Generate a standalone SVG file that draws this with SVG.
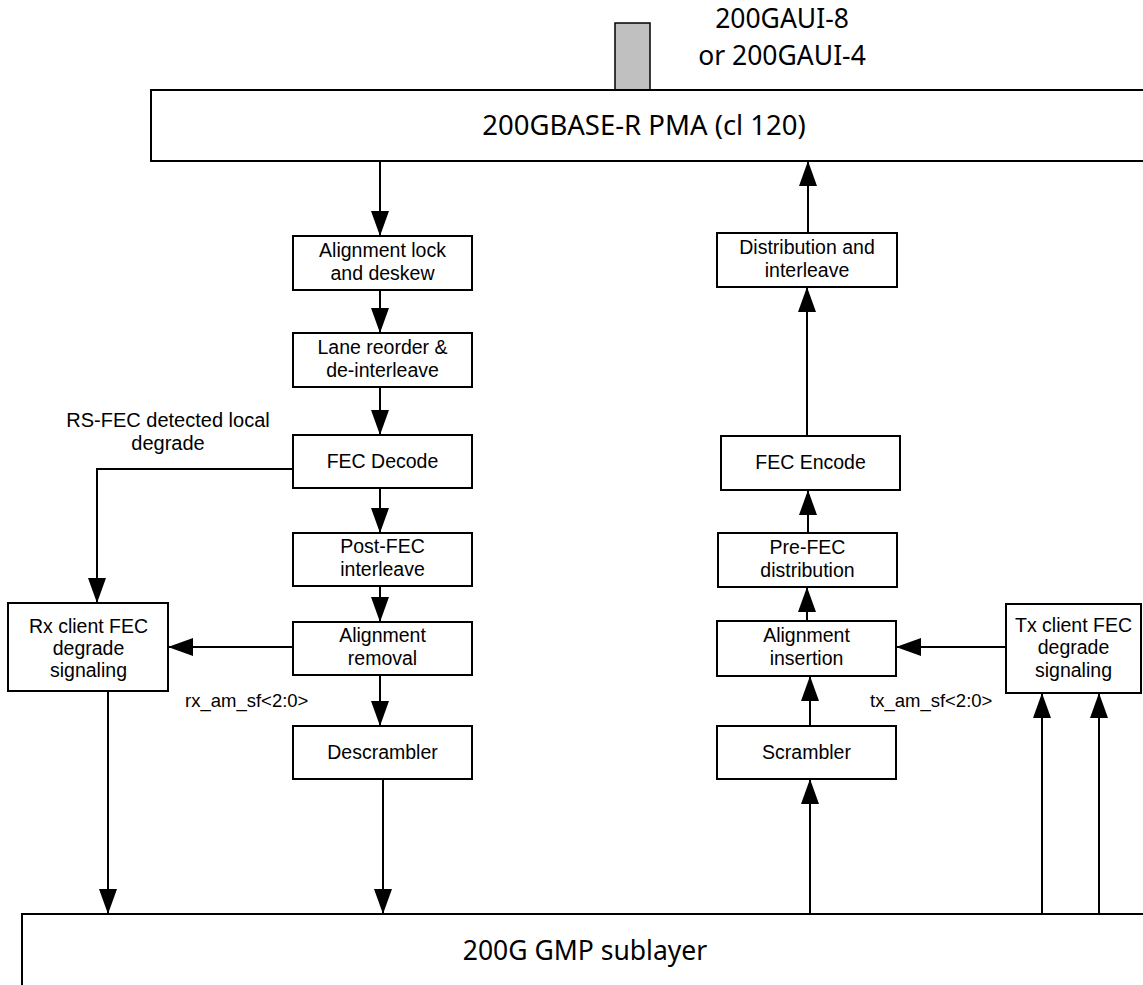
<svg xmlns="http://www.w3.org/2000/svg" width="1143" height="985" viewBox="0 0 1143 985">
<style>
.box{fill:#fff;stroke:#000;stroke-width:2}
.t{font-family:"Liberation Sans",Arial,sans-serif;font-size:19.5px;fill:#000;text-anchor:middle}
.lbl{font-family:"Liberation Sans",Arial,sans-serif;font-size:18.5px;fill:#000}
.big{font-family:"Noto Sans","Open Sans",sans-serif;font-size:26.5px;fill:#000;text-anchor:middle}
.c{fill:none;stroke:#000;stroke-width:2}
</style>
<defs>
<marker id="ah" markerUnits="userSpaceOnUse" markerWidth="25" markerHeight="18" viewBox="0 0 25 18" refX="25" refY="9" orient="auto">
<path d="M0,0 L25,9 L0,18 z" fill="#000"/>
</marker>
</defs>
<rect width="1143" height="985" fill="#fff"/>

<g id="gaui">
<rect x="615" y="23" width="35" height="67" fill="#c0c0c0" stroke="#000" stroke-width="1.5"/>
<text class="big" x="782" y="28">200GAUI-8</text>
<text class="big" x="782" y="65">or 200GAUI-4</text>
</g>
<g id="pma">
<rect class="box" x="151" y="90" width="1010" height="71"/>
<text class="big" x="644" y="135" style="font-size:27.5px">200GBASE-R PMA (cl 120)</text>
</g>
<g id="gmp">
<rect class="box" x="22" y="914" width="1140" height="100"/>
<text class="big" x="585" y="960">200G GMP sublayer</text>
</g>

<g id="align_lock"><rect class="box" x="293" y="236" width="179" height="54"/>
<text class="t" x="382.5" y="257">Alignment lock</text><text class="t" x="382.5" y="280">and deskew</text></g>
<g id="lane_reorder"><rect class="box" x="293" y="333" width="179" height="54"/>
<text class="t" x="382.5" y="354">Lane reorder &amp;</text><text class="t" x="382.5" y="377">de-interleave</text></g>
<g id="fec_decode"><rect class="box" x="293" y="435" width="179" height="53"/>
<text class="t" x="382.5" y="468">FEC Decode</text></g>
<g id="post_fec"><rect class="box" x="293" y="533" width="179" height="53"/>
<text class="t" x="382.5" y="553">Post-FEC</text><text class="t" x="382.5" y="576">interleave</text></g>
<g id="align_removal"><rect class="box" x="293" y="622" width="179" height="53"/>
<text class="t" x="382.5" y="642">Alignment</text><text class="t" x="382.5" y="665">removal</text></g>
<g id="descrambler"><rect class="box" x="293" y="726" width="179" height="53"/>
<text class="t" x="382.5" y="759">Descrambler</text></g>

<g id="distribution"><rect class="box" x="717" y="233" width="180" height="54"/>
<text class="t" x="807" y="254">Distribution and</text><text class="t" x="807" y="277">interleave</text></g>
<g id="fec_encode"><rect class="box" x="721" y="436" width="179" height="54"/>
<text class="t" x="810.5" y="469">FEC Encode</text></g>
<g id="pre_fec"><rect class="box" x="718" y="533" width="179" height="54"/>
<text class="t" x="807.5" y="554">Pre-FEC</text><text class="t" x="807.5" y="577">distribution</text></g>
<g id="align_insertion"><rect class="box" x="717" y="621" width="179" height="55"/>
<text class="t" x="806.5" y="642">Alignment</text><text class="t" x="806.5" y="665">insertion</text></g>
<g id="scrambler"><rect class="box" x="717" y="726" width="179" height="53"/>
<text class="t" x="806.5" y="759">Scrambler</text></g>

<g id="rx_client"><rect class="box" x="8" y="603" width="160" height="88"/>
<text class="t" x="88.5" y="633">Rx client FEC</text><text class="t" x="88.5" y="655">degrade</text><text class="t" x="88.5" y="677">signaling</text></g>
<g id="tx_client"><rect class="box" x="1006" y="604" width="135" height="89"/>
<text class="t" x="1073.5" y="632">Tx client FEC</text><text class="t" x="1073.5" y="654">degrade</text><text class="t" x="1073.5" y="677">signaling</text></g>

<g id="connectors">
<path class="c" d="M380,161 V236" marker-end="url(#ah)"/>
<path class="c" d="M380,290 V333" marker-end="url(#ah)"/>
<path class="c" d="M380,387 V435" marker-end="url(#ah)"/>
<path class="c" d="M380,488 V533" marker-end="url(#ah)"/>
<path class="c" d="M380,586 V622" marker-end="url(#ah)"/>
<path class="c" d="M380,675 V726" marker-end="url(#ah)"/>
<path class="c" d="M383,779 V914" marker-end="url(#ah)"/>
<path class="c" d="M293,469 H97 V603" marker-end="url(#ah)"/>
<path class="c" d="M293,647 H168" marker-end="url(#ah)"/>
<path class="c" d="M108,691 V914" marker-end="url(#ah)"/>
<path class="c" d="M810,914 V779" marker-end="url(#ah)"/>
<path class="c" d="M810,726 V676" marker-end="url(#ah)"/>
<path class="c" d="M807,621 V587" marker-end="url(#ah)"/>
<path class="c" d="M808,533 V490" marker-end="url(#ah)"/>
<path class="c" d="M807,436 V287" marker-end="url(#ah)"/>
<path class="c" d="M808,233 V161" marker-end="url(#ah)"/>
<path class="c" d="M1006,647 H896" marker-end="url(#ah)"/>
<path class="c" d="M1042,914 V693" marker-end="url(#ah)"/>
<path class="c" d="M1099,914 V693" marker-end="url(#ah)"/>
</g>
<g id="labels">
<text class="t" x="168" y="427" style="font-size:20px">RS-FEC detected local</text>
<text class="t" x="168" y="450" style="font-size:20px">degrade</text>
<text class="lbl" x="185" y="707">rx_am_sf&lt;2:0&gt;</text>
<text class="lbl" x="870" y="707">tx_am_sf&lt;2:0&gt;</text>
</g>
</svg>
